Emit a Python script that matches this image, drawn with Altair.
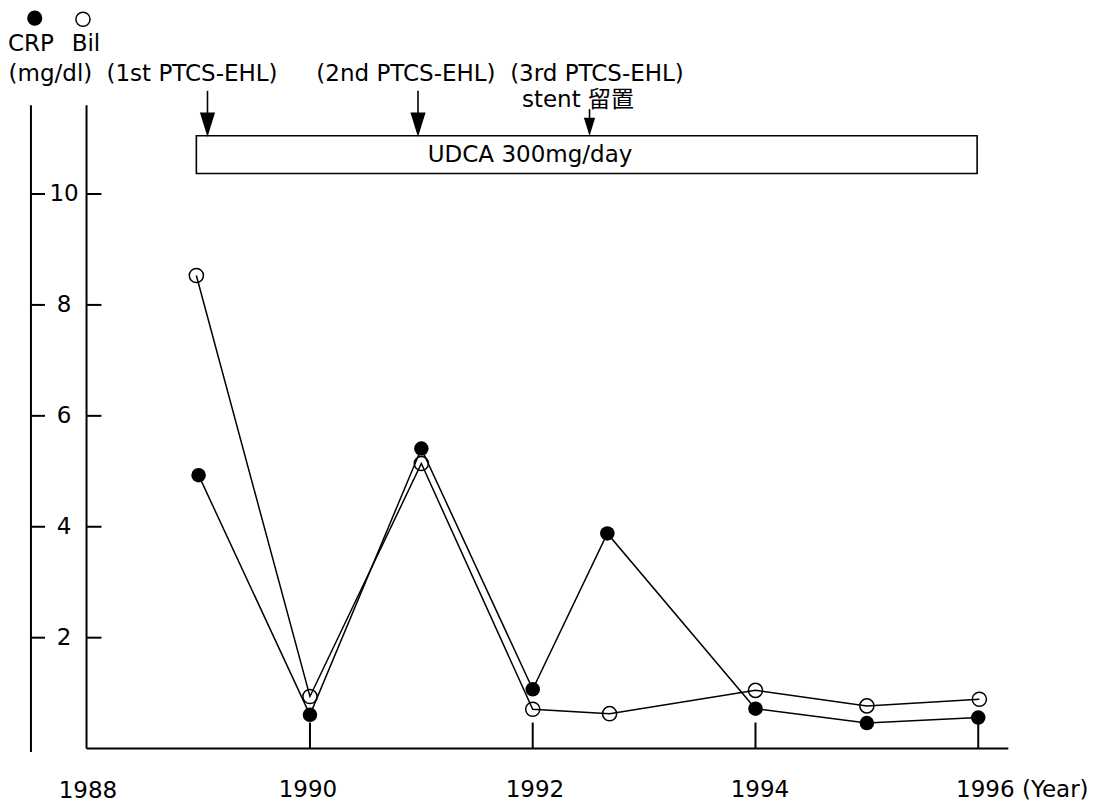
import altair as alt
import pandas as pd

# ---------------- data ----------------
crp_years = [1989.0, 1990.0, 1991.0, 1992.0, 1992.67, 1994.0, 1995.0, 1996.0]
crp_values = [4.93, 0.61, 5.41, 1.07, 3.88, 0.72, 0.46, 0.56]

bil_years = [1988.98, 1990.0, 1991.0, 1992.0, 1992.69, 1994.0, 1995.0, 1996.01]
bil_values = [8.53, 0.94, 5.14, 0.71, 0.63, 1.05, 0.77, 0.89]

y_ticks = [2, 4, 6, 8, 10]
y_tick_labels = ["2", "4", "6", "8", "10"]
x_ticks = [1990, 1992, 1994, 1996]
x_tick_labels = ["1988", "1990", "1992", "1994", "1996 (Year)"]

event_labels = ["(1st PTCS-EHL)", "(2nd PTCS-EHL)", "(3rd PTCS-EHL)"]
event_years = [1989.08, 1990.97, 1992.51]
stent_label = "stent 留置"
treatment_label = "UDCA 300mg/day"
treatment_span = [1988.98, 1995.99]

# ---------------- layout ----------------
W, H = 1083, 795
PX_PER_YEAR = 111.38
PX_PER_UNIT = 55.46
x_lo = 1988 - (87.2 - 8) / PX_PER_YEAR
x_hi = x_lo + W / PX_PER_YEAR
y_hi = (748.6 - 8) / PX_PER_UNIT
y_lo = y_hi - H / PX_PER_UNIT

FONT = "DejaVu Sans, Liberation Sans, Noto Sans CJK JP"
FS = 23

xs = alt.Scale(domain=[x_lo, x_hi], nice=False, zero=False)
ys = alt.Scale(domain=[y_lo, y_hi], nice=False, zero=False)


def X(f="x"):
    return alt.X(f"{f}:Q", scale=xs, axis=None)


def Y(f="y"):
    return alt.Y(f"{f}:Q", scale=ys, axis=None)


crp = pd.DataFrame({"x": crp_years, "y": crp_values})
bil = pd.DataFrame({"x": bil_years, "y": bil_values})

# axis frame segments
left_axis_x = 1987.495
inner_axis_x = 1987.994
axis_top = 11.60
segs = [
    (left_axis_x, -0.06, left_axis_x, axis_top),
    (inner_axis_x, 0.0, inner_axis_x, axis_top),
    (inner_axis_x, 0.0, 1996.27, 0.0),
]
for t in y_ticks:
    segs.append((left_axis_x, t, 1987.621, t))
    segs.append((inner_axis_x, t, 1988.128, t))
for t in x_ticks:
    segs.append((t, 0.0, t, 0.47))
seg_df = pd.DataFrame(segs, columns=["x", "y", "x2", "y2"])

frame = alt.Chart(seg_df).mark_rule(color="black", strokeWidth=2).encode(
    x=X(), y=Y(), x2="x2:Q", y2="y2:Q"
)

# treatment box
box_df = pd.DataFrame({"x": [treatment_span[0]], "x2": [treatment_span[1]],
                       "y": [10.37], "y2": [11.05]})
box = alt.Chart(box_df).mark_rect(fill="white", stroke="black", strokeWidth=1.6).encode(
    x=X(), x2="x2:Q", y=Y(), y2="y2:Q"
)

# arrows
arrow_tops = [11.86, 11.86, 11.53]
head_centers = [11.25, 11.25, 11.21]
head_sizes = [600, 600, 330]
arrow_df = pd.DataFrame({"x": event_years, "y": arrow_tops, "y2": head_centers,
                         "s": head_sizes})
arrow_lines = alt.Chart(arrow_df).mark_rule(color="black", strokeWidth=1.6).encode(
    x=X(), y=Y(), y2="y2:Q"
)
arrow_heads = alt.Chart(arrow_df).mark_point(
    shape="M-0.62,-1L0.62,-1L0,1Z", filled=True, color="black", opacity=1
).encode(x=X(), y=Y("y2"), size=alt.Size("s:Q", scale=None, legend=None))

# data series
crp_line = alt.Chart(crp).mark_line(color="black", strokeWidth=1.5).encode(x=X(), y=Y())
bil_line = alt.Chart(bil).mark_line(color="black", strokeWidth=1.5).encode(x=X(), y=Y())
crp_pts = alt.Chart(crp).mark_point(filled=True, color="black", size=210, opacity=1,
                                     shape="circle").encode(x=X(), y=Y())
bil_pts = alt.Chart(bil).mark_point(filled=False, color="black", size=200, opacity=1,
                                     strokeWidth=1.5, shape="circle").encode(x=X(), y=Y())

# legend-like symbols
sym_df = pd.DataFrame({"x": [1987.529], "y": [13.17]})
sym_open_df = pd.DataFrame({"x": [1987.962], "y": [13.15]})
sym_f = alt.Chart(sym_df).mark_point(filled=True, color="black", size=230, opacity=1,
                                      shape="circle").encode(x=X(), y=Y())
sym_o = alt.Chart(sym_open_df).mark_point(filled=False, color="black", size=200, opacity=1,
                                           strokeWidth=1.5, shape="circle").encode(x=X(), y=Y())

# texts (centered)
center_texts = [
    ("CRP", 1987.495, 12.71),
    ("Bil", 1987.989, 12.71),
    ("(mg/dl)", 1987.670, 12.17),
    (event_labels[0], 1988.941, 12.17),
    (event_labels[1], 1990.862, 12.17),
    (event_labels[2], 1992.577, 12.17),
    (stent_label, 1992.406, 11.69),
    (treatment_label, 1991.976, 10.70),
    (x_tick_labels[0], 1988.007, -0.77),
    (x_tick_labels[1], 1989.982, -0.74),
    (x_tick_labels[2], 1992.020, -0.74),
    (x_tick_labels[3], 1994.040, -0.74),
]
for lab, t in zip(y_tick_labels, y_ticks):
    center_texts.append((lab, 1987.792, t))
ct_df = pd.DataFrame(center_texts, columns=["text", "x", "y"])
ctext = alt.Chart(ct_df).mark_text(font=FONT, fontSize=FS, color="black",
                                   align="center", baseline="middle").encode(
    x=X(), y=Y(), text="text:N"
)
lt_df = pd.DataFrame([(x_tick_labels[4], 1995.801, -0.74)], columns=["text", "x", "y"])
ltext = alt.Chart(lt_df).mark_text(font=FONT, fontSize=FS, color="black",
                                   align="left", baseline="middle").encode(
    x=X(), y=Y(), text="text:N"
)

chart = alt.layer(
    frame, box, arrow_lines, arrow_heads,
    crp_line, bil_line, crp_pts, bil_pts,
    sym_f, sym_o, ctext, ltext,
).properties(
    width=W, height=H,
    autosize=alt.AutoSizeParams(type="none"),
    padding=0,
    background="white",
).configure_view(stroke=None)

chart.save("out.html", embed_options={"renderer": "svg", "actions": False})
